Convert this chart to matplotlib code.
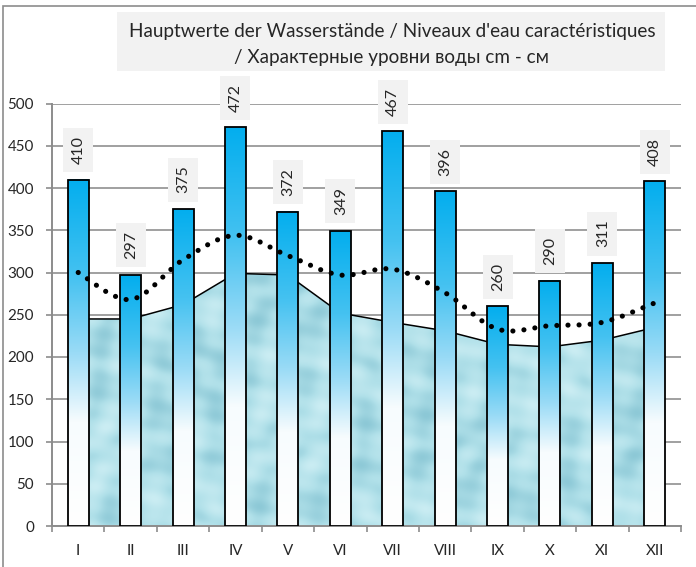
import numpy as np
import matplotlib
matplotlib.use("Agg")
import matplotlib.pyplot as plt
from matplotlib.patches import Rectangle, PathPatch
from matplotlib.path import Path
from matplotlib.colors import LinearSegmentedColormap
import matplotlib.transforms as mtransforms

plt.rcParams['font.family'] = ['Lato', 'Noto Sans', 'DejaVu Sans']

# ---------------- data ----------------
months = ["I", "II", "III", "IV", "V", "VI", "VII", "VIII", "IX", "X", "XI", "XII"]
max_levels = [410, 297, 375, 472, 372, 349, 467, 396, 260, 290, 311, 408]
mean_levels = [300, 268, 315, 344, 320, 297, 304, 276, 233, 237, 241, 264]
low_levels = [245, 245, 262, 299, 297, 252, 241, 231, 215, 212, 220, 235]
y_ticks = [0, 50, 100, 150, 200, 250, 300, 350, 400, 450, 500]
title_line1 = "Hauptwerte der Wasserstände / Niveaux d'eau caractéristiques"
title_line2 = "/ Характерные уровни воды cm - см"

W, H = 696, 567
fig = plt.figure(figsize=(W / 100, H / 100), dpi=100)
fig.patch.set_facecolor("white")

def px(x, y):
    return (x / W, 1 - y / H)

# outer frame
frame = Rectangle(px(3, 700), 800 / W, (700 - 6) / H, transform=fig.transFigure,
                  fill=False, ec="#8c8c8c", lw=1.2, clip_on=False)
fig.patches.append(frame)

L, R, B, T = 52, 681, 526, 103.5
ax = fig.add_axes([L / W, 1 - B / H, (R - L) / W, (B - T) / H])

x = np.arange(len(months))

# ---- area (low water) with water-like texture ----
gx, gy = np.meshgrid(np.linspace(0, 1, 600), np.linspace(0, 1, 400))
tex = (np.sin(gx * 38 + np.sin(gy * 17) * 2.2) * np.cos(gy * 29 + np.cos(gx * 21) * 1.9)
       + 0.5 * np.sin(gx * 83 + gy * 57) * np.cos(gx * 47 - gy * 71))
tex = (tex - tex.min()) / (tex.max() - tex.min())
tex_cmap = LinearSegmentedColormap.from_list("water", ["#8cc8d6", "#b0e0e9", "#cbedf3"])
im = ax.imshow(tex, extent=(-0.5, 11.5, 0, 500), origin="lower", aspect="auto",
               cmap=tex_cmap, zorder=2, interpolation="bilinear")
area_poly = ax.fill_between(x, 0, low_levels, facecolor="none", edgecolor="none", zorder=2)
clip_path = area_poly.get_paths()[0]
im.set_clip_path(clip_path, transform=ax.transData)
ax.plot(x, low_levels, color="black", lw=1.1, zorder=2.5)

# ---- bars with gradient ----
bar_cmap = LinearSegmentedColormap.from_list(
    "bar", [(0.0, "#ffffff"), (0.30, "#f7fcfe"), (0.5, "#9adbf6"),
            (0.72, "#45c2f1"), (1.0, "#03aeee")])
grad = np.linspace(0, 1, 256).reshape(-1, 1)
bw = 0.4
for xi, v in zip(x, max_levels):
    ax.imshow(grad, extent=(xi - bw / 2, xi + bw / 2, 0, v), origin="lower",
              aspect="auto", cmap=bar_cmap, zorder=3, interpolation="bilinear")
    ax.add_patch(Rectangle((xi - bw / 2, 0), bw, v, fill=False, ec="black",
                           lw=1.3, zorder=4))

# ---- smoothed dotted line (mean) ----
pts = np.column_stack([x, mean_levels]).astype(float)
ext = np.vstack([pts[0], pts, pts[-1]])
verts = [tuple(pts[0])]
codes = [Path.MOVETO]
for i in range(len(pts) - 1):
    p0, p1, p2, p3 = ext[i], ext[i + 1], ext[i + 2], ext[i + 3]
    c1 = p1 + (p2 - p0) / 6.0
    c2 = p2 - (p3 - p1) / 6.0
    verts += [tuple(c1), tuple(c2), tuple(p2)]
    codes += [Path.CURVE4, Path.CURVE4, Path.CURVE4]
curve = PathPatch(Path(verts, codes), fill=False, ec="black", lw=3.7,
                  linestyle=(0, (0.01, 2.15)), capstyle="round", zorder=5)
ax.add_patch(curve)

# ---- data labels ----
for xi, v in zip(x, max_levels):
    tr = fig.dpi_scale_trans + mtransforms.ScaledTranslation(xi, v, ax.transData)
    ax.add_patch(Rectangle((-0.15, 0.076), 0.30, 0.44, transform=tr, fc="#f2f2f2",
                           ec="none", zorder=6, clip_on=False))
    ax.text(0.005, 0.076 + 0.22, str(v), transform=tr, rotation=90, ha="center",
            va="center", fontsize=11.5, color="#262626", zorder=7, clip_on=False)

# ---- axes styling ----
ax.set_xlim(-0.5, 11.5)
ax.set_ylim(0, 500)
ax.set_aspect("auto")
ax.set_yticks(y_ticks)
ax.set_yticklabels([str(t) for t in y_ticks])
ax.set_xticks(x)
ax.set_xticklabels(months)
ax.set_xticks(np.arange(-0.5, 12, 1), minor=True)
ax.yaxis.grid(True, color="#a0a0a0", lw=1.4, zorder=0)
ax.set_axisbelow(True)
for s in ["top", "right"]:
    ax.spines[s].set_visible(False)
for s in ["left", "bottom"]:
    ax.spines[s].set_color("#8c8c8c")
    ax.spines[s].set_linewidth(1.4)
ax.tick_params(axis="y", direction="out", length=4, width=1.2, color="#8c8c8c",
               pad=9, labelsize=10.9, labelcolor="#262626")
ax.tick_params(axis="x", which="major", length=0, pad=13, labelsize=10.9,
               labelcolor="#262626")
ax.tick_params(axis="x", which="minor", direction="out", length=4, width=1.2,
               color="#8c8c8c")

# ---- title box ----
fig.patches.append(Rectangle(px(117, 71), (665 - 117) / W, (71 - 12) / H,
                             transform=fig.transFigure, fc="#f2f2f2", ec="none"))
fig.text(392 / W, 1 - 37 / H, title_line1, ha="center", va="baseline",
         fontsize=13.6, color="#262626")
fig.text(392 / W, 1 - 63.5 / H, title_line2, ha="center", va="baseline",
         fontsize=13.6, color="#262626")

fig.savefig("out.png", dpi=100, facecolor="white")
